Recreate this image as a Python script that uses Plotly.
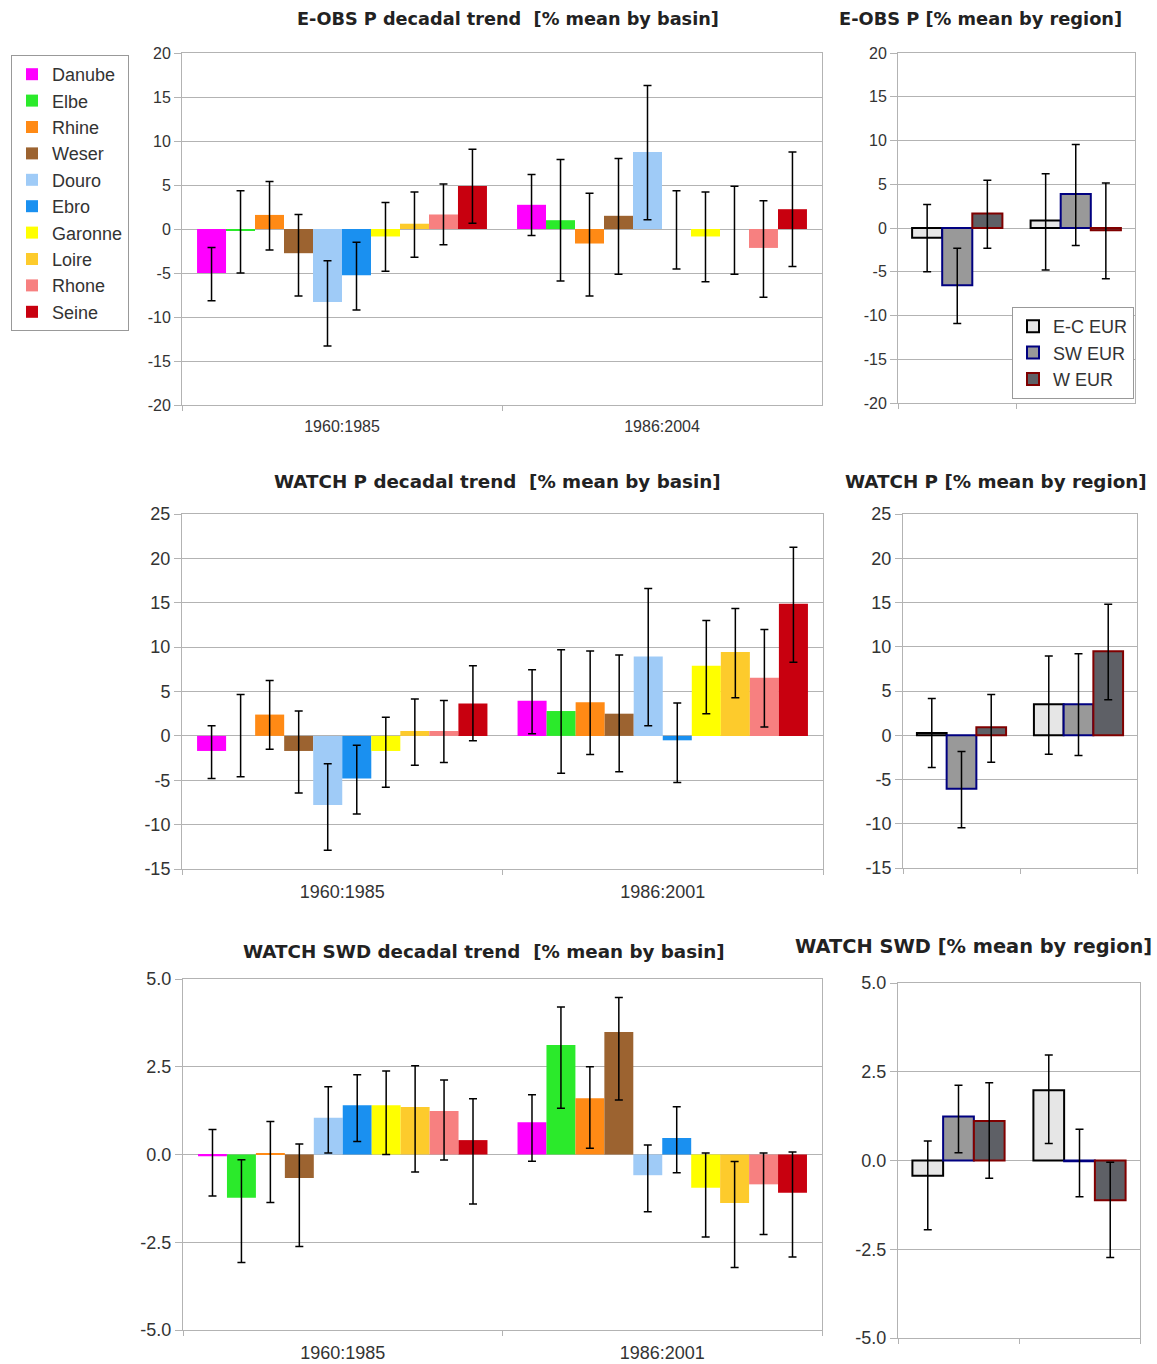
import plotly.graph_objects as go

W, H = 1157, 1364

basins = ["Danube", "Elbe", "Rhine", "Weser", "Douro", "Ebro", "Garonne", "Loire", "Rhone", "Seine"]
basin_colors = ["#ff00ff", "#2bea2b", "#ff8a15", "#9c6330", "#9fcbf7", "#1a90f0", "#ffff00", "#fdcb2c", "#f78080", "#c8000f"]
regions = ["E-C EUR", "SW EUR", "W EUR"]
region_fill = ["#e6e6e6", "#999999", "#5e6066"]
region_line = ["#000000", "#000080", "#800000"]

per_eobs = ["1960:1985", "1986:2004"]
per_watch = ["1960:1985", "1986:2001"]

# tick labels
ticks_p20 = [-20, -15, -10, -5, 0, 5, 10, 15, 20]
ticks_p25 = [-15, -10, -5, 0, 5, 10, 15, 20, 25]
ticks_swd = [-5.0, -2.5, 0.0, 2.5, 5.0]

# ---- E-OBS P by basin: [period1, period2] per basin
eobs_val = [[-5.0, 2.75], [-0.15, 1.0], [1.6, -1.65], [-2.75, 1.5], [-8.3, 8.75],
            [-5.25, 0.0], [-0.85, -0.85], [0.6, 0.0], [1.65, -2.15], [4.9, 2.25]]
eobs_hi = [[-2.1, 6.2], [4.35, 7.9], [5.4, 4.05], [1.65, 8.0], [-3.6, 16.3],
           [-1.5, 4.35], [3.0, 4.2], [4.2, 4.85], [5.1, 3.2], [9.05, 8.75]]
eobs_lo = [[-8.15, -0.75], [-5.0, -5.9], [-2.4, -7.6], [-7.6, -5.15], [-13.3, 1.05],
           [-9.2, -4.55], [-4.8, -6.0], [-3.2, -5.15], [-1.8, -7.75], [0.65, -4.25]]

# ---- E-OBS P by region
eobsr_val = [[-1.1, 0.85], [-6.55, 3.9], [1.65, -0.25]]
eobsr_hi = [[2.7, 6.2], [-2.3, 9.55], [5.45, 5.15]]
eobsr_lo = [[-5.0, -4.8], [-10.9, -2.0], [-2.3, -5.8]]

# ---- WATCH P by basin
wp_val = [[-1.7, 3.95], [0.0, 2.8], [2.4, 3.8], [-1.7, 2.5], [-7.8, 8.95],
          [-4.8, -0.5], [-1.7, 7.9], [0.55, 9.45], [0.55, 6.55], [3.65, 14.9]]
wp_hi = [[1.15, 7.45], [4.65, 9.7], [6.25, 9.55], [2.8, 9.1], [-3.15, 16.6],
         [-1.05, 3.7], [2.1, 13.0], [4.15, 14.35], [4.0, 12.0], [7.9, 21.25]]
wp_lo = [[-4.8, 0.25], [-4.6, -4.2], [-1.5, -2.1], [-6.45, -4.05], [-12.9, 1.15],
         [-8.8, -5.25], [-5.8, 2.5], [-3.3, 4.3], [-3.0, 1.0], [-0.55, 8.3]]

# ---- WATCH P by region
wpr_val = [[0.25, 3.5], [-6.05, 3.5], [0.9, 9.5]]
wpr_hi = [[4.15, 8.95], [-1.85, 9.2], [4.6, 14.8]]
wpr_lo = [[-3.65, -2.15], [-10.45, -2.3], [-3.05, 4.0]]

# ---- WATCH SWD by basin
sw_val = [[-0.05, 0.92], [-1.23, 3.12], [0.04, 1.6], [-0.67, 3.49], [1.05, -0.59],
          [1.4, 0.47], [1.4, -0.95], [1.35, -1.38], [1.24, -0.85], [0.41, -1.09]]
sw_hi = [[0.71, 1.7], [-0.15, 4.2], [0.94, 2.5], [0.3, 4.47], [1.93, 0.27],
         [2.27, 1.36], [2.38, 0.04], [2.53, -0.2], [2.12, 0.04], [1.59, 0.07]]
sw_lo = [[-1.18, -0.19], [-3.08, 1.32], [-1.37, 0.18], [-2.62, 1.55], [0.04, -1.63],
         [0.37, -0.52], [0.0, -2.35], [-0.5, -3.22], [-0.16, -2.28], [-1.41, -2.92]]

# ---- WATCH SWD by region
swr_val = [[-0.43, 1.98], [1.24, -0.02], [1.11, -1.12]]
swr_hi = [[0.55, 2.97], [2.12, 0.88], [2.19, -0.05]]
swr_lo = [[-1.95, 0.48], [0.22, -1.02], [-0.5, -2.73]]

GRID = "#b3b3b3"
TXT = "#333333"
FONT = "Liberation Sans"

fig = go.Figure()


def err(val, hi, lo):
    return dict(type="data", symmetric=False,
                array=[h - v for h, v in zip(hi, val)],
                arrayminus=[v - l for v, l in zip(val, lo)],
                color="#000000", thickness=1.5, width=4)


def add_basin(ax, periods, vals, his, los, show):
    for i, b in enumerate(basins):
        fig.add_trace(go.Bar(
            x=periods, y=vals[i], name=b, marker=dict(color=basin_colors[i], line=dict(width=0)),
            error_y=err(vals[i], his[i], los[i]),
            xaxis="x" + ax, yaxis="y" + ax, legendgroup=b, showlegend=show, legend="legend"))


def add_region(ax, periods, vals, his, los, show):
    offs = [-0.381, -0.127, 0.127]
    for i, r in enumerate(regions):
        fig.add_trace(go.Bar(
            x=periods, y=vals[i], name=r, width=0.254, offset=offs[i],
            marker=dict(color=region_fill[i], line=dict(color=region_line[i], width=2)),
            error_y=err(vals[i], his[i], los[i]),
            xaxis="x" + ax, yaxis="y" + ax, legendgroup=r, showlegend=show, legend="legend2"))


add_basin("", per_eobs, eobs_val, eobs_hi, eobs_lo, True)
add_region("2", per_eobs, eobsr_val, eobsr_hi, eobsr_lo, True)
add_basin("3", per_watch, wp_val, wp_hi, wp_lo, False)
add_region("4", per_watch, wpr_val, wpr_hi, wpr_lo, False)
add_basin("5", per_watch, sw_val, sw_hi, sw_lo, False)
add_region("6", per_watch, swr_val, swr_hi, swr_lo, False)


def px_x(a, b):
    return [a / W, b / W]


def px_y(top, bottom):
    return [1 - bottom / H, 1 - top / H]


def xax(dom, anchor, labels, size, standoff=0):
    return dict(domain=dom, anchor=anchor, type="category", showgrid=False,
                showline=True, mirror=True, linecolor=GRID, linewidth=1,
                ticks="outside", tickson="boundaries", ticklen=5, tickcolor=GRID,
                showticklabels=labels, tickfont=dict(family=FONT, size=size, color=TXT),
                ticklabelstandoff=standoff, automargin=False, fixedrange=True)


def yax(dom, anchor, rng, vals, fmt, size):
    return dict(domain=dom, anchor=anchor, range=rng, tickmode="array", tickvals=vals,
                ticktext=[format(v, fmt) for v in vals],
                showgrid=True, gridcolor=GRID, gridwidth=1, zeroline=False,
                showline=True, mirror=True, linecolor=GRID, linewidth=1,
                ticks="outside", ticklen=7, tickcolor=GRID,
                tickfont=dict(family=FONT, size=size, color=TXT),
                automargin=False, fixedrange=True)


layout = dict(
    width=W, height=H, margin=dict(l=0, r=0, t=0, b=0, autoexpand=False),
    paper_bgcolor="white", plot_bgcolor="white",
    barmode="group", bargap=0.094, bargroupgap=0,
    font=dict(family=FONT, color=TXT),
    xaxis=xax(px_x(182, 822), "y", True, 16, 7),
    yaxis=yax(px_y(53, 405), "x", [-20, 20], ticks_p20, "d", 16),
    xaxis2=xax(px_x(898, 1135), "y2", False, 16),
    yaxis2=yax(px_y(53, 403), "x2", [-20, 20], ticks_p20, "d", 16),
    xaxis3=xax(px_x(182, 823), "y3", True, 18, 6),
    yaxis3=yax(px_y(514, 869), "x3", [-15, 25], ticks_p25, "d", 18),
    xaxis4=xax(px_x(903, 1137), "y4", False, 18),
    yaxis4=yax(px_y(514, 868), "x4", [-15, 25], ticks_p25, "d", 18),
    xaxis5=xax(px_x(183, 822), "y5", True, 18, 6),
    yaxis5=yax(px_y(979, 1330), "x5", [-5, 5], ticks_swd, ".1f", 18),
    xaxis6=xax(px_x(898, 1140), "y6", False, 18),
    yaxis6=yax(px_y(983, 1338), "x6", [-5, 5], ticks_swd, ".1f", 18),
    legend=dict(x=11 / W, y=1 - 55 / H, xanchor="left", yanchor="top",
                bordercolor="#999999", borderwidth=1, bgcolor="white",
                font=dict(family=FONT, size=18, color=TXT), itemwidth=30,
                tracegroupgap=0),
    legend2=dict(x=1012 / W, y=1 - 307 / H, xanchor="left", yanchor="top",
                 bordercolor="#999999", borderwidth=1, bgcolor="white",
                 font=dict(family=FONT, size=18, color=TXT), itemwidth=30,
                 tracegroupgap=0),
)
fig.update_layout(**layout)

titles = [
    ("E-OBS P decadal trend  [% mean by basin]", 508, 19, 17.7),
    ("E-OBS P [% mean by region]", 980, 19, 17.8),
    ("WATCH P decadal trend  [% mean by basin]", 497, 481, 18.3),
    ("WATCH P [% mean by region]", 996, 481, 18.3),
    ("WATCH SWD decadal trend  [% mean by basin]", 484, 951, 18.3),
    ("WATCH SWD [% mean by region]", 973, 946, 19.4),
]
for t, cx, cy, fs in titles:
    fig.add_annotation(text="<b>" + t + "</b>", x=cx / W, y=1 - cy / H, xref="paper", yref="paper",
                       xanchor="center", yanchor="middle", showarrow=False,
                       font=dict(family="DejaVu Sans", size=fs, color="#222222"))

fig.write_html("out.html")
